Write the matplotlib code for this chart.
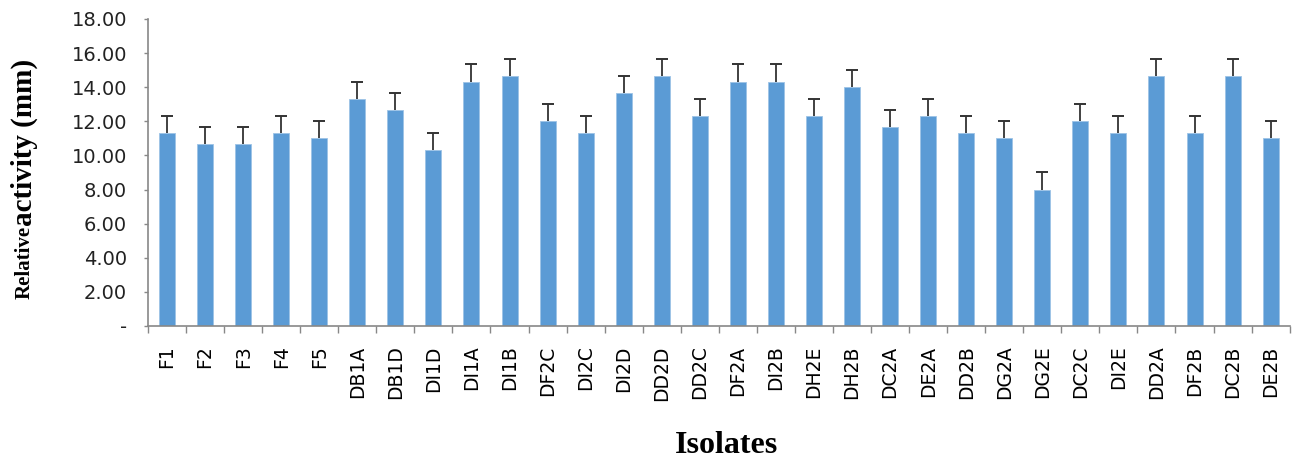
import numpy as np
import matplotlib.pyplot as plt
from matplotlib.ticker import FixedLocator, FuncFormatter

isolates = ['F1', 'F2', 'F3', 'F4', 'F5', 'DB1A', 'DB1D', 'DI1D', 'DI1A', 'DI1B',
            'DF2C', 'DI2C', 'DI2D', 'DD2D', 'DD2C', 'DF2A', 'DI2B', 'DH2E', 'DH2B', 'DC2A',
            'DE2A', 'DD2B', 'DG2A', 'DG2E', 'DC2C', 'DI2E', 'DD2A', 'DF2B', 'DC2B', 'DE2B']
activity = [11.33, 10.67, 10.67, 11.33, 11.00, 13.33, 12.67, 10.33, 14.33, 14.67,
            12.00, 11.33, 13.67, 14.67, 12.33, 14.33, 14.33, 12.33, 14.00, 11.67,
            12.33, 11.33, 11.00, 8.00, 12.00, 11.33, 14.67, 11.33, 14.67, 11.00]
errors = [1.0] * len(activity)

x = np.arange(len(isolates))
vals = np.array(activity)
tops = vals + np.array(errors)

fig = plt.figure(figsize=(13.04, 4.59), dpi=100)
ax = fig.add_axes([0.1135, 0.2898, 0.8755, 0.669])

ax.bar(x, vals, width=0.42, color='#5B9BD5', edgecolor='#9DC3E6', linewidth=0.6)
# plus-only error bars (cap on top only)
ax.vlines(x, vals, tops, color='#333333', linewidth=1.3)
ax.plot(x, tops, linestyle='none', marker='_', markersize=9, markeredgewidth=1.4,
        color='#333333')

ax.set_xlim(-0.5, len(isolates) - 0.5)
ax.set_ylim(0, 18)
ax.set_yticks(np.arange(0, 18.01, 2))
ax.yaxis.set_major_formatter(FuncFormatter(lambda v, p: '-' if v == 0 else '%.2f' % v))

ax.set_xticks(x)
ax.set_xticklabels(isolates, rotation=90, fontsize=13.5, family='DejaVu Sans')
ax.xaxis.set_minor_locator(FixedLocator(np.arange(-0.5, len(isolates), 1)))
ax.tick_params(axis='x', which='major', length=0, pad=14)
ax.tick_params(axis='x', which='minor', length=5, color='#888888', width=1)
ax.tick_params(axis='y', length=3, color='#888888', width=1, labelsize=14, pad=12)
for lab in ax.get_yticklabels():
    lab.set_color('#222222')

for s in ['top', 'right']:
    ax.spines[s].set_visible(False)
for s in ['left', 'bottom']:
    ax.spines[s].set_color('#888888')
    ax.spines[s].set_linewidth(1.2)

fig.text(0.557, 1 - 431 / 459, 'Isolates', ha='center', va='top', fontsize=23,
         fontweight='bold', family='Liberation Serif')
fig.text(0.019, 1 - 299 / 459, 'Relative', rotation=90, ha='center', va='bottom',
         fontsize=15, fontweight='bold', family='Liberation Serif')
fig.text(0.019, 1 - 226 / 459, 'activity (mm)', rotation=90, ha='center', va='bottom',
         fontsize=21, fontweight='bold', family='Liberation Serif')

fig.savefig('out.png', dpi=100)
